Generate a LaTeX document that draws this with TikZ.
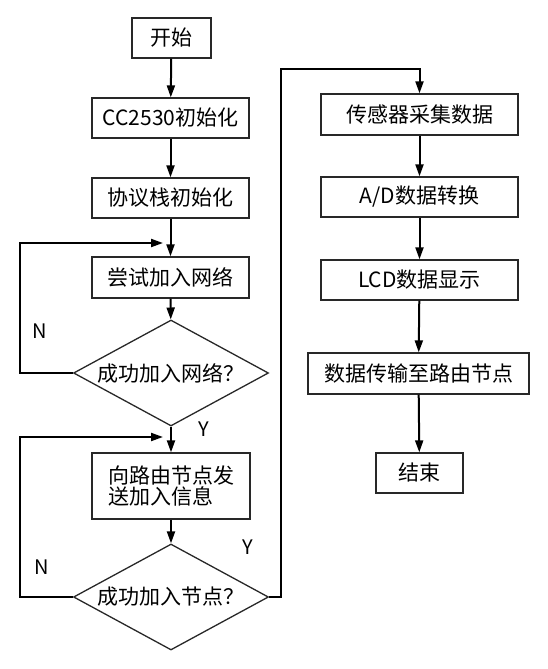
\documentclass[tikz,border=0pt]{standalone}
\usepackage{fontspec}
\setmainfont{Noto Sans CJK SC}
\usetikzlibrary{arrows.meta,shapes.geometric}
\definecolor{boxline}{RGB}{40,40,40}

\begin{document}
\begin{tikzpicture}[x=1pt,y=-1pt,
    procbox/.style={draw=boxline,line width=1.3pt,inner sep=0pt,minimum height=40pt,font=\fontsize{21}{19}\selectfont},
    judge/.style={draw=boxline,line width=1.3pt,diamond,aspect=1.85,inner sep=0pt,minimum width=195pt,minimum height=106pt,font=\fontsize{21}{24}\selectfont},
    flowline/.style={line width=2pt,-{Triangle[length=12pt,width=8pt]}},
    yn/.style={font=\fontsize{20}{24}\selectfont}]
  \useasboundingbox (0,0) rectangle (548,669);
  % left column
  \node[procbox,minimum width=79pt] (start) at (171.5,38) {开始};
  \node[procbox,minimum width=157pt] (init) at (170.5,118) {CC2530初始化};
  \node[procbox,minimum width=157pt] (stack) at (170.5,198) {协议栈初始化};
  \node[procbox,minimum width=157pt,minimum height=41pt] (join) at (170.5,277.5) {尝试加入网络};
  \node[judge] (ask1) at (171,373) {成功加入网络？};
  \node[procbox,minimum width=158pt,minimum height=66pt,align=left] (send) at (171,486) {向路由节点发\\送加入信息};
  \node[judge] (ask2) at (171,597) {成功加入节点？};
  % right column
  \node[procbox,minimum width=197pt,minimum height=41pt] (sense) at (419.5,114.5) {传感器采集数据};
  \node[procbox,minimum width=197pt] (adc) at (419.5,197) {A/D数据转换};
  \node[procbox,minimum width=197pt] (lcd) at (419.5,280) {LCD数据显示};
  \node[procbox,minimum width=221pt,minimum height=41pt] (trans) at (418.5,373.5) {数据传输至路由节点};
  \node[procbox,minimum width=87pt] (finish) at (419.5,473) {结束};
  % Y/N labels
  \node[yn] (n1) at (40,331) {N};
  \node[yn] (n2) at (42,567) {N};
  \node[yn] (y1) at (204,429) {Y};
  \node[yn] (y2) at (248,547) {Y};
  % loop entry points
  \coordinate (back1) at (163,243);
  \coordinate (back2) at (163,437);
  % main flow
  \draw[flowline] (start) -- (init);
  \draw[flowline] (init) -- (stack);
  \draw[flowline] (stack) -- (join);
  \draw[flowline] (join) -- (ask1);
  \draw[flowline] (ask1) -- (send);
  \draw[flowline] (send) -- (ask2);
  \draw[flowline] (sense) -- (adc);
  \draw[flowline] (adc) -- (lcd);
  \draw[flowline] (lcd) -- (trans);
  \draw[flowline] (trans) -- (finish);
  % loops back
  \draw[flowline] (ask1.west) -- (20,373) -- (20,243) -- (back1);
  \draw[flowline] (ask2.west) -- (20,597) -- (20,437) -- (back2);
  \draw[flowline] (ask2.east) -- (281,597) -- (281,69) -- (sense.north |- 0,69) -- (sense.north);
\end{tikzpicture}
\end{document}
